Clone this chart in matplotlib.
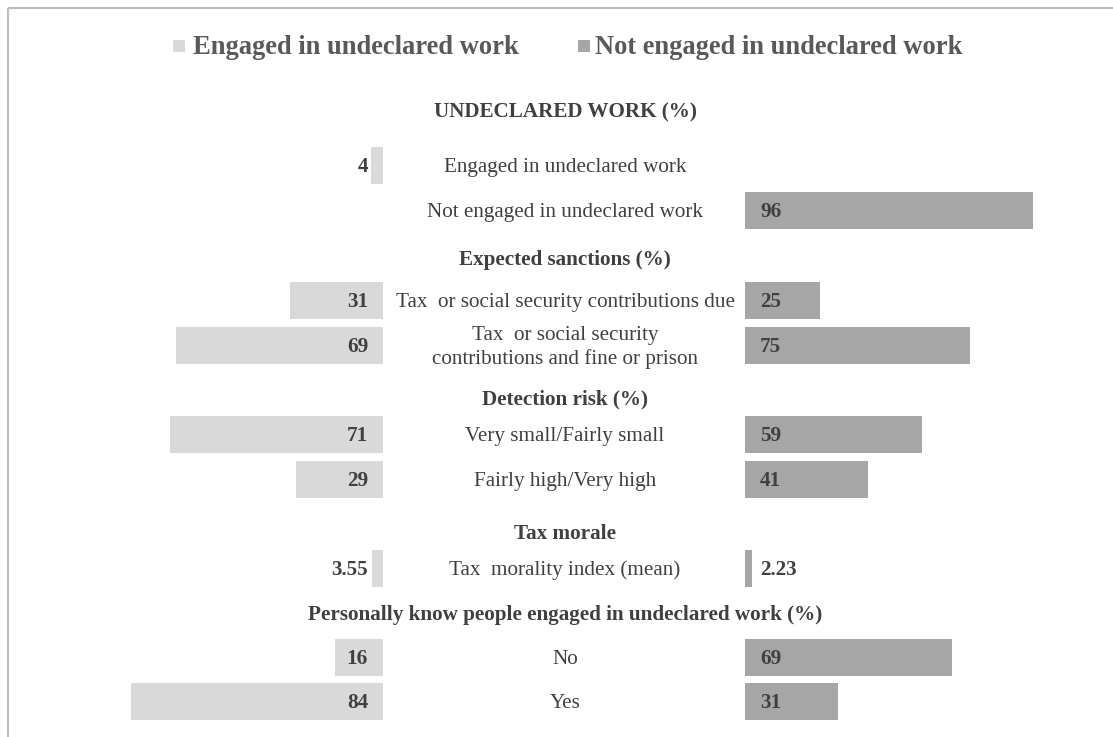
import matplotlib
matplotlib.use("Agg")
import matplotlib.pyplot as plt

# ---- data ----
legend_labels = ["Engaged in undeclared work", "Not engaged in undeclared work"]
headers = ["UNDECLARED WORK (%)", "Expected sanctions (%)", "Detection risk (%)",
           "Tax morale", "Personally know people engaged in undeclared work (%)"]
categories = ["Engaged in undeclared work",
              "Not engaged in undeclared work",
              "Tax  or social security contributions due",
              "Tax  or social security\ncontributions and fine or prison",
              "Very small/Fairly small",
              "Fairly high/Very high",
              "Tax  morality index (mean)",
              "No",
              "Yes"]
engaged = [4, None, 31, 69, 71, 29, 3.55, 16, 84]
not_engaged = [None, 96, 25, 75, 59, 41, 2.23, 69, 31]

# ---- layout (pixel based) ----
W, H = 1113, 737
row_y = [165, 210, 300, 345, 434, 479, 568, 657.5, 701.5]
header_y = [110, 258, 397, 532, 613]
bar_h = 37
PXU = 3.0  # pixels per unit
left_base, right_base = 383, 745
center_x = 565

C_LEFT = "#D9D9D9"
C_RIGHT = "#A6A6A6"
C_TEXT = "#404040"
C_LEG = "#595959"
FONT = "Liberation Serif"
FS = 15.2

fig = plt.figure(figsize=(W / 100, H / 100), dpi=100)

def fx(px):
    return px / W

bg = fig.add_axes([0, 0, 1, 1])
bg.set_xlim(0, W)
bg.set_ylim(H, 0)
bg.axis("off")

# left axes (inverted x)
l0 = 100
axL = fig.add_axes([fx(l0), 0, fx(left_base - l0), 1])
axL.set_xlim((left_base - l0) / PXU, 0)
axL.set_ylim(H, 0)
axL.axis("off")

r1 = 1100
axR = fig.add_axes([fx(right_base), 0, fx(r1 - right_base), 1])
axR.set_xlim(0, (r1 - right_base) / PXU)
axR.set_ylim(H, 0)
axR.axis("off")

def fmt(v):
    return f"{v:.2f}" if v != int(v) else f"{int(v)}"

padL = 15 / PXU
padR = 15 / PXU
for y, v in zip(row_y, engaged):
    if v is None:
        continue
    axL.barh(y, v, height=bar_h, color=C_LEFT, edgecolor="none")
    axL.text(padL, y + 2, fmt(v), ha="right", va="center",
             fontsize=FS, fontweight="bold", color=C_TEXT, family=FONT)
for y, v in zip(row_y, not_engaged):
    if v is None:
        continue
    axR.barh(y, v, height=bar_h, color=C_RIGHT, edgecolor="none")
    axR.text(padR, y + 2, fmt(v), ha="left", va="center",
             fontsize=FS, fontweight="bold", color=C_TEXT, family=FONT)

for y, c in zip(row_y, categories):
    bg.text(center_x, y + 2.5, c, ha="center", va="center", fontsize=FS,
            color=C_TEXT, family=FONT, linespacing=1.25)

for y, h in zip(header_y, headers):
    bg.text(center_x, y + 2, h, ha="center", va="center", fontsize=FS,
            fontweight="bold", color=C_TEXT, family=FONT)

# legend
leg_y = 46
for sx, tx, col, lab in [(173, 193, C_LEFT, legend_labels[0]),
                         (578, 595, C_RIGHT, legend_labels[1])]:
    bg.add_patch(plt.Rectangle((sx, leg_y - 6), 12, 12, color=col, lw=0))
    bg.text(tx, leg_y + 1.5, lab, ha="left", va="center", fontsize=19.1,
            fontweight="bold", color=C_LEG, family=FONT)

# border
bg.plot([8, 8], [H, 8], color="#BFBFBF", lw=1.6, solid_capstyle="butt")
bg.plot([8, W], [8, 8], color="#BFBFBF", lw=1.6, solid_capstyle="butt")

fig.savefig("out.png", dpi=100)
